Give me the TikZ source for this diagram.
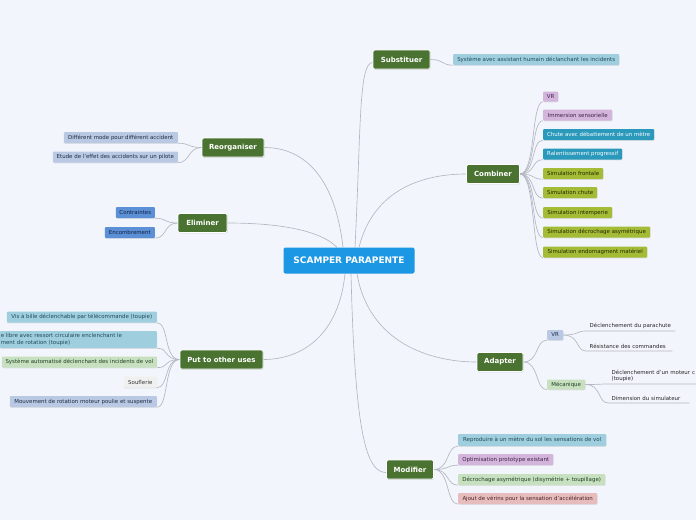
\documentclass[tikz,border=0pt]{standalone}
\usepackage{fontspec}
\setmainfont{DejaVu Sans}
\usetikzlibrary{shadows}
\pgfdeclarelayer{background}
\pgfsetlayers{background,main}
\definecolor{bgc}{HTML}{F2F5FC}
\definecolor{mgreen}{HTML}{4A7331}
\definecolor{cblue}{HTML}{1C97E4}
\definecolor{lnk}{HTML}{B4B7C0}
\definecolor{cteal}{HTML}{9FCFDF}
\definecolor{tteal}{HTML}{224856}
\definecolor{cgray}{HTML}{B9C9E3}
\definecolor{tgray}{HTML}{1F2A45}
\definecolor{cblu}{HTML}{5B90D6}
\definecolor{tblu}{HTML}{12203F}
\definecolor{cgreen}{HTML}{C6E0C0}
\definecolor{tgreen}{HTML}{223F22}
\definecolor{cwhite}{HTML}{F0F0F0}
\definecolor{cpurp}{HTML}{D3B4DB}
\definecolor{tpurp}{HTML}{3F2049}
\definecolor{cdteal}{HTML}{2A99BB}
\definecolor{colive}{HTML}{A4BB36}
\definecolor{tolive}{HTML}{222800}
\definecolor{cpink}{HTML}{E6BCBC}
\definecolor{tpink}{HTML}{4F2222}
\tikzset{
  x=1pt, y=-1pt,
  rootnode/.style={fill=cblue, rounded corners=2pt, text=white, font=\bfseries\fontsize{9}{10}\selectfont, minimum width=131pt, minimum height=26pt, inner sep=0pt},
  mainnode/.style={fill=mgreen, draw=white, line width=0.7pt, rounded corners=1.5pt, text=white, font=\bfseries\fontsize{7}{8}\selectfont, minimum height=19pt, inner xsep=4pt, inner ysep=0pt, drop shadow={opacity=0.25, shadow xshift=0.6pt, shadow yshift=-0.9pt}},
  leaf/.style={rounded corners=1pt, font=\fontsize{5.45}{6.6}\selectfont, minimum height=11pt, inner xsep=1.5pt, inner ysep=1pt, drop shadow={opacity=0.18, shadow xshift=0.4pt, shadow yshift=-0.8pt}},
  teal/.style={leaf, fill=cteal, text=tteal},
  grayb/.style={leaf, fill=cgray, text=tgray},
  blu/.style={leaf, fill=cblu, text=tblu},
  lgreen/.style={leaf, fill=cgreen, text=tgreen},
  lwhite/.style={leaf, fill=cwhite, text=black!80},
  purp/.style={leaf, fill=cpurp, text=tpurp},
  dteal/.style={leaf, fill=cdteal, text=white},
  olive/.style={leaf, fill=colive, text=tolive},
  pink/.style={leaf, fill=cpink, text=tpink},
  plain/.style={font=\fontsize{5.45}{6.6}\selectfont, text=black!85, align=left, inner xsep=3.5pt, inner ysep=1.8pt, anchor=south west},
  link/.style={draw=lnk, line width=0.65pt},
}
\begin{document}
\begin{tikzpicture}
\begin{pgfonlayer}{background}
\fill[bgc] (0,0) rectangle (696,520);
\end{pgfonlayer}
\useasboundingbox (0,0) rectangle (696,520);

% root and main topics
\node[rootnode] (root) at (349,260.5) {SCAMPER PARAPENTE};
\node[mainnode, minimum width=57pt] (sub) at (401.5,59.5) {Substituer};
\node[mainnode, minimum width=62pt] (reo) at (233,147.5) {Reorganiser};
\node[mainnode, minimum width=49pt] (eli) at (202.5,223) {Eliminer};
\node[mainnode, minimum width=83pt] (put) at (221.5,359.5) {Put to other uses};
\node[mainnode, minimum width=53pt] (com) at (493,174) {Combiner};
\node[mainnode, minimum width=46pt] (ada) at (500,362) {Adapter};
\node[mainnode, minimum width=47pt] (mod) at (410,469.5) {Modifier};

% Substituer
\node[teal, anchor=west, minimum width=166pt] (s1) at (453,59.5) {Système avec assistant humain déclanchant les incidents};

% Reorganiser
\node[grayb, anchor=east, minimum width=114pt] (r1) at (178,137.5) {Différent mode pour différent accident};
\node[grayb, anchor=east, minimum width=125pt] (r2) at (178,157) {Etude de l'effet des accidents sur un pilote};

% Eliminer
\node[blu, anchor=east, minimum width=39pt] (e1) at (155,212.5) {Contraintes};
\node[blu, anchor=east, minimum width=50pt] (e2) at (155,232.5) {Encombrement};

% Put to other uses
\node[teal, anchor=east, minimum width=150pt] (p1) at (157,317) {Vis à bille déclenchable par télécommande (toupie)};
\node[teal, anchor=east, minimum height=17pt, text width=155pt, align=left, inner xsep=1pt] (p2) at (157,339.5) {e libre avec ressort circulaire enclenchant le\\ment de rotation (toupie)};
\node[lgreen, anchor=east, minimum width=155pt] (p3) at (157,362) {Système automatisé déclenchant des incidents de vol};
\node[lwhite, anchor=east, minimum width=33pt] (p4) at (157,382) {Souflerie};
\node[grayb, anchor=east, minimum width=147pt] (p5) at (157,401.5) {Mouvement de rotation moteur poulie et suspente};

% Combiner
\node[purp, anchor=west, minimum width=15pt, minimum height=10pt] (c1) at (543,96.5) {VR};
\node[purp, anchor=west, minimum width=69pt] (c2) at (543,115) {Immersion sensorielle};
\node[dteal, anchor=west, minimum width=111pt] (c3) at (543,134.5) {Chute avec débattement de un mètre};
\node[dteal, anchor=west, minimum width=79pt] (c4) at (543,154) {Ralentissement progressif};
\node[olive, anchor=west, minimum width=60pt] (c5) at (543,173.5) {Simulation frontale};
\node[olive, anchor=west, minimum width=54pt] (c6) at (543,192.5) {Simulation chute};
\node[olive, anchor=west, minimum width=69pt] (c7) at (543,212.5) {Simulation intemperie};
\node[olive, anchor=west, minimum width=107pt] (c8) at (543,232) {Simulation décrochage asymétrique};
\node[olive, anchor=west, minimum width=104pt] (c9) at (543,252) {Simulation endomagment matériel};

% Adapter
\node[grayb, anchor=west, minimum width=16pt, minimum height=10pt] (a1) at (547,335) {VR};
\node[lgreen, anchor=west, minimum width=38pt, minimum height=10pt] (a2) at (547,384.5) {Mécanique};
\node[plain, text width=82pt] (a11) at (586,331) {Déclenchement du parachute};
\node[plain, text width=79pt] (a12) at (586,351) {Résistance des commandes};
\node[plain, text width=84pt] (a21) at (608,384) {Déclenchement d'un moteur c\\(toupie)};
\node[plain, text width=74pt] (a22) at (608,403) {Dimension du simulateur};

% Modifier
\node[teal, anchor=west, minimum width=148pt, minimum height=12pt] (m1) at (458,440) {Reproduire à un mètre du sol les sensations de vol};
\node[purp, anchor=west, minimum width=95pt] (m2) at (458,459.5) {Optimisation prototype existant};
\node[lgreen, anchor=west, minimum width=147pt] (m3) at (458,479.5) {Décrochage asymétrique (disymétrie + toupillage)};
\node[pink, anchor=west, minimum width=139pt] (m4) at (458,498.5) {Ajout de vérins pour la sensation d'accélération};

\begin{pgfonlayer}{background}
% root links
\draw[link] ([xshift=6pt]root.north) .. controls +(6,-120) and +(-14,0) .. ([yshift=-3pt]sub.west);
\draw[link] ([xshift=-6pt]root.north) .. controls +(-8,-70) and +(40,0) .. (reo.east);
\draw[link] ([xshift=-12pt]root.north) .. controls +(-20,-20) and +(40,0) .. (eli.east);
\draw[link] ([xshift=-4pt]root.south) .. controls +(-6,60) and +(40,0) .. (put.east);
\draw[link] ([xshift=10pt]root.north) .. controls +(15,-60) and +(-40,0) .. (com.west);
\draw[link] ([xshift=8pt]root.south) .. controls +(12,70) and +(-45,0) .. (ada.west);
\draw[link] ([xshift=2pt]root.south) .. controls +(4,160) and +(-20,0) .. ([yshift=-3pt]mod.west);

% Substituer
\draw[link] (sub.east) .. controls +(14,0) and +(-12,0) .. (s1.south west);
% Reorganiser
\foreach \n in {r1,r2} \draw[link] (reo.west) .. controls +(-14,0) and +(12,0) .. (\n.south east);
% Eliminer
\foreach \n in {e1,e2} \draw[link] (eli.west) .. controls +(-14,0) and +(12,0) .. (\n.south east);
% Put to other uses
\foreach \n in {p1,p2,p3,p4,p5} \draw[link] (put.west) .. controls +(-16,0) and +(12,0) .. (\n.south east);
% Combiner
\foreach \n in {c1,c2,c3,c4,c5,c6,c7,c8,c9} \draw[link] (com.east) .. controls +(16,0) and +(-12,0) .. (\n.south west);
% Adapter
\foreach \n in {a1,a2} \draw[link] (ada.east) .. controls +(16,0) and +(-12,0) .. (\n.south west);
\foreach \n in {a11,a12} \draw[link] (a1.east) .. controls +(16,0) and +(-10,0) .. (\n.south west) -- (\n.south east);
\foreach \n in {a21,a22} \draw[link] (a2.east) .. controls +(16,0) and +(-10,0) .. (\n.south west) -- (\n.south east);
% Modifier
\foreach \n in {m1,m2,m3,m4} \draw[link] (mod.east) .. controls +(16,0) and +(-12,0) .. (\n.south west);
\end{pgfonlayer}
\end{tikzpicture}
\end{document}
